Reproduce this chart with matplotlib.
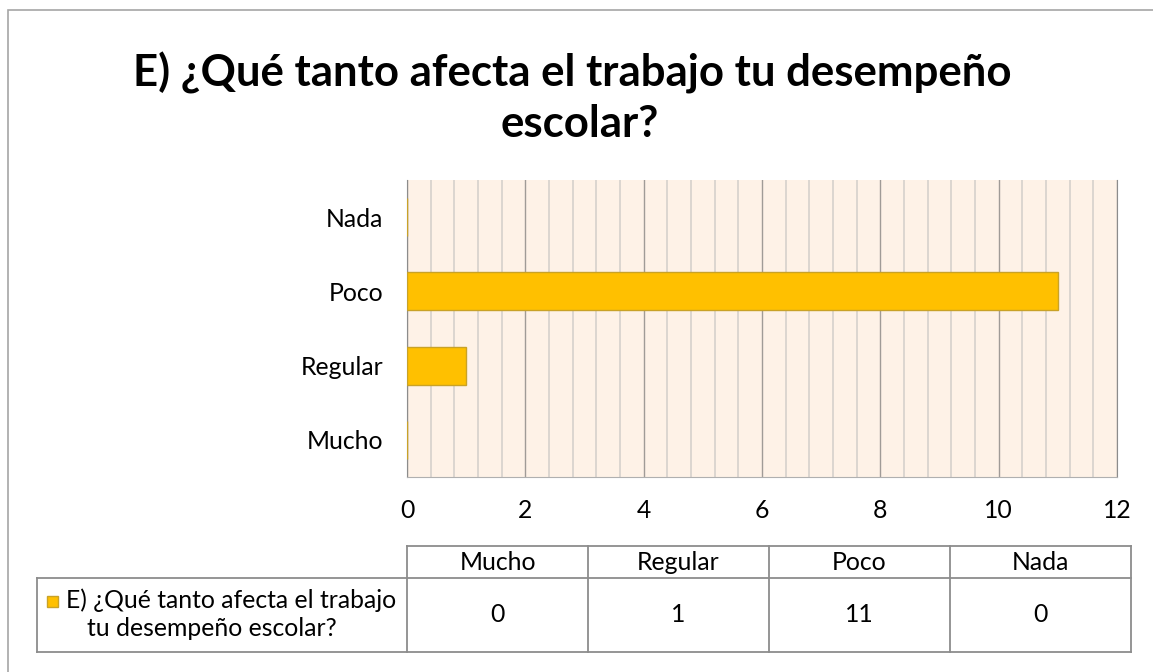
import matplotlib.pyplot as plt
from matplotlib.patches import Rectangle
from matplotlib.lines import Line2D

# data
categories = ["Mucho", "Regular", "Poco", "Nada"]
values = [0, 1, 11, 0]
series_lines = ["E) ¿Qué tanto afecta el trabajo", "tu desempeño escolar?"]
title_lines = ["E) ¿Qué tanto afecta el trabajo tu desempeño", "escolar?"]
xticks = [0, 2, 4, 6, 8, 10, 12]

W, H = 1153, 672
plt.rcParams['font.family'] = ['Lato', 'DejaVu Sans']
FS = 17.8

fig = plt.figure(figsize=(W / 100, H / 100), dpi=100)


def fx(px):
    return px / W


def fy(py):
    return 1 - py / H


# outer chart frame
fig.add_artist(Rectangle((fx(8), fy(700)), fx(1200), (700 - 10) / H,
                         transform=fig.transFigure, fill=False,
                         edgecolor='#a6a6a6', linewidth=1.2))

fig.text(fx(572), fy(73), title_lines[0], ha='center', va='center',
         fontsize=31.5, fontweight='bold')
fig.text(fx(580), fy(124), title_lines[1], ha='center', va='center',
         fontsize=31.5, fontweight='bold')

left, right, top, bottom = 407, 1117, 180, 477
ax = fig.add_axes([fx(left), fy(bottom), fx(right - left), (bottom - top) / H])
ax.set_facecolor('#fef2e7')

y = range(len(categories))
ax.barh(y, values, height=0.51, color='#ffc000', edgecolor='#c9a227',
        linewidth=1, zorder=3)

ax.set_xlim(0, 12)
ax.set_ylim(-0.5, len(categories) - 0.5)
ax.set_xticks(xticks)
ax.set_xticks([i * 0.4 for i in range(31)], minor=True)
ax.grid(which='minor', axis='x', color='#d6d1cc', linewidth=1.2, zorder=1)
ax.grid(which='major', axis='x', color='#a09b97', linewidth=1.0, zorder=1)
ax.set_yticks(list(y))
ax.set_yticklabels(categories)
ax.tick_params(axis='both', which='both', length=0, labelsize=FS)
ax.tick_params(axis='x', pad=16)
ax.tick_params(axis='y', pad=17)
for s in ax.spines.values():
    s.set_visible(False)
ax.spines['left'].set_visible(True)
ax.spines['left'].set_color('#8c8c8c')
ax.spines['bottom'].set_visible(True)
ax.spines['bottom'].set_color('#b0b0b0')
ax.spines['right'].set_visible(True)
ax.spines['right'].set_color('#8c8c8c')

# data table under the chart
t_top, t_mid, t_bot = 546, 578, 652
t_left = 37
cols = [407, 588, 769, 950, 1131]
lc = '#8c8c8c'


def hline(x0, x1, yy):
    fig.add_artist(Line2D([fx(x0), fx(x1)], [fy(yy), fy(yy)], color=lc, lw=1.3))


def vline(xx, y0, y1):
    fig.add_artist(Line2D([fx(xx), fx(xx)], [fy(y0), fy(y1)], color=lc, lw=1.3))


hline(cols[0], cols[-1], t_top)
hline(t_left, cols[-1], t_mid)
hline(t_left, cols[-1], t_bot)
vline(t_left, t_mid, t_bot)
for c in cols:
    vline(c, t_top, t_bot)

for i, (cat, val) in enumerate(zip(categories, values)):
    cx = (cols[i] + cols[i + 1]) / 2
    fig.text(fx(cx), fy(562), cat, ha='center', va='center', fontsize=FS)
    fig.text(fx(cx), fy(614), str(val), ha='center', va='center', fontsize=FS)

fig.add_artist(Rectangle((fx(47), fy(607)), fx(11), 11 / H, transform=fig.transFigure,
                         facecolor='#ffc000', edgecolor='#c9a227', lw=1))
fig.text(fx(66), fy(600), series_lines[0], ha='left', va='center', fontsize=FS)
fig.text(fx(212), fy(628), series_lines[1], ha='center', va='center', fontsize=FS)

fig.savefig("out.png", dpi=100)
